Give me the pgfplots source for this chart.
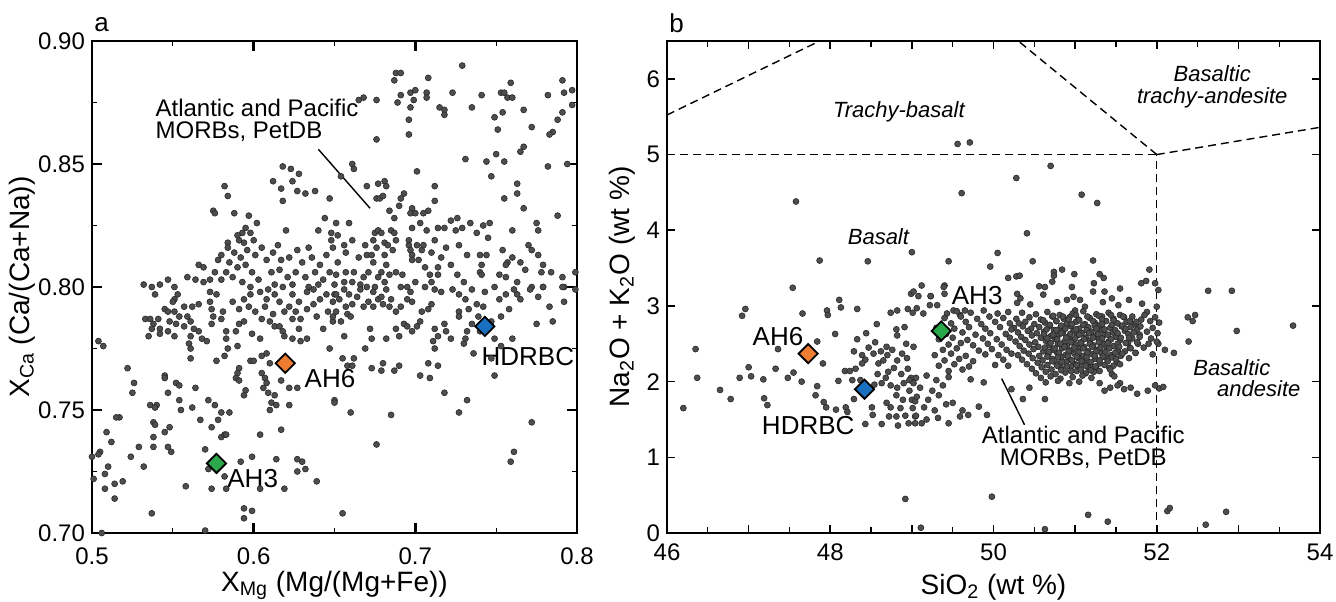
\documentclass[border=0pt]{standalone}
\usepackage{fontspec}
\setmainfont{Liberation Sans}
\usepackage{pgfplots}
\pgfplotsset{compat=1.18}
\definecolor{dotfill}{RGB}{78,78,78}
\definecolor{dotdraw}{RGB}{40,40,40}
\definecolor{cOrange}{RGB}{238,125,49}
\definecolor{cGreen}{RGB}{43,168,74}
\definecolor{cBlue}{RGB}{26,112,192}
\pgfplotsset{
  dots/.style={only marks, mark=*, mark size=1.5pt, mark options={fill=dotfill, draw=dotdraw, line width=0.3pt}},
  dia/.style={only marks, mark=square*, mark size=3.4pt, mark options={rotate=45, fill=#1, draw=black, line width=0.9pt}},
  tasline/.style={black, line width=0.7pt, dash pattern=on 4pt off 2.5pt, forget plot},
}
\begin{document}
\begin{tikzpicture}
\path[use as bounding box] (0,0) rectangle (668pt,300.5pt);
% ---------------- panel a ----------------
\begin{axis}[name=A, anchor=south west, at={(46pt,34pt)}, scale only axis,
 width=242.5pt, height=246pt,
 xmin=0.5, xmax=0.8, ymin=0.70, ymax=0.90,
 xtick={0.5,0.6,0.7,0.8}, xticklabels={0.5,0.6,0.7,0.8},
 ytick={0.70,0.75,0.80,0.85,0.90}, yticklabels={0.70,0.75,0.80,0.85,0.90},
 minor x tick num=1, minor y tick num=1,
 tick align=inside, tick pos=both,
 axis line style={line width=1pt},
 major tick length=5pt, minor tick length=2.5pt,
 major tick style={line width=1.2pt, black}, minor tick style={line width=0.6pt, black},
 tick label style={font=\fontsize{12}{14}\selectfont},
 xticklabel style={yshift=-4pt},
 xlabel={X\textsubscript{Mg} (Mg/(Mg+Fe))},
 ylabel={X\textsubscript{Ca} (Ca/(Ca+Na))},
 every axis x label/.style={at={(axis description cs:0.5,-0.106)}, anchor=center, font=\fontsize{14}{16}\selectfont},
 every axis y label/.style={at={(axis description cs:-0.144,0.5)}, rotate=90, anchor=center, font=\fontsize{14}{16}\selectfont},
]
\addplot[dots] table[row sep=\\] {
x y\\
0.729 0.890\\ 0.688 0.887\\ 0.691 0.887\\ 0.687 0.884\\ 0.708 0.885\\ 0.759 0.883\\ 0.791 0.884\\ 0.691 0.878\\ 0.697 0.879\\ 0.700 0.880\\
0.707 0.879\\ 0.707 0.877\\ 0.676 0.876\\ 0.668 0.877\\ 0.665 0.876\\ 0.723 0.879\\ 0.741 0.878\\ 0.753 0.879\\ 0.755 0.879\\ 0.757 0.877\\
0.760 0.877\\ 0.782 0.878\\ 0.792 0.879\\ 0.797 0.880\\ 0.699 0.876\\ 0.689 0.875\\ 0.697 0.873\\ 0.715 0.873\\ 0.718 0.872\\ 0.718 0.870\\
0.735 0.873\\ 0.754 0.871\\ 0.767 0.872\\ 0.797 0.874\\ 0.791 0.871\\ 0.696 0.868\\ 0.696 0.862\\ 0.676 0.860\\ 0.749 0.869\\ 0.788 0.868\\
0.751 0.864\\ 0.772 0.865\\ 0.785 0.863\\ 0.783 0.862\\ 0.767 0.857\\ 0.765 0.855\\ 0.750 0.854\\ 0.731 0.852\\ 0.744 0.851\\ 0.755 0.851\\
0.661 0.850\\ 0.662 0.848\\ 0.618 0.849\\ 0.623 0.848\\ 0.628 0.846\\ 0.701 0.847\\ 0.782 0.849\\ 0.794 0.850\\ 0.654 0.845\\ 0.747 0.845\\
0.612 0.843\\ 0.624 0.843\\ 0.582 0.841\\ 0.670 0.841\\ 0.677 0.842\\ 0.681 0.843\\ 0.682 0.841\\ 0.712 0.841\\ 0.763 0.842\\ 0.638 0.839\\
0.627 0.839\\ 0.617 0.840\\ 0.632 0.838\\ 0.584 0.837\\ 0.647 0.836\\ 0.676 0.836\\ 0.678 0.836\\ 0.680 0.837\\ 0.693 0.838\\ 0.691 0.836\\
0.763 0.838\\ 0.755 0.836\\ 0.618 0.835\\ 0.712 0.835\\ 0.575 0.831\\ 0.576 0.830\\ 0.690 0.833\\ 0.684 0.831\\ 0.698 0.832\\ 0.708 0.831\\
0.767 0.832\\ 0.588 0.830\\ 0.697 0.830\\ 0.700 0.830\\ 0.705 0.830\\ 0.597 0.829\\ 0.602 0.826\\ 0.644 0.828\\ 0.687 0.828\\ 0.788 0.829\\
0.651 0.826\\ 0.659 0.826\\ 0.703 0.826\\ 0.722 0.827\\ 0.726 0.828\\ 0.734 0.826\\ 0.746 0.826\\ 0.775 0.826\\ 0.742 0.825\\
0.542 0.801\\ 0.547 0.803\\ 0.559 0.804\\ 0.564 0.803\\ 0.569 0.802\\ 0.573 0.803\\ 0.566 0.809\\ 0.569 0.808\\ 0.537 0.800\\ 0.532 0.801\\ 0.551 0.800\\
0.595 0.824\\ 0.593 0.822\\ 0.591 0.819\\ 0.594 0.818\\ 0.600 0.819\\ 0.584 0.818\\ 0.584 0.816\\ 0.590 0.821\\ 0.598 0.822\\ 0.588 0.814\\
0.592 0.812\\ 0.596 0.815\\ 0.601 0.813\\ 0.605 0.816\\ 0.580 0.813\\ 0.578 0.811\\ 0.585 0.810\\ 0.590 0.808\\ 0.595 0.809\\ 0.599 0.806\\
0.583 0.806\\ 0.587 0.804\\ 0.593 0.802\\ 0.580 0.803\\ 0.576 0.806\\ 0.603 0.803\\ 0.598 0.800\\
0.615 0.817\\ 0.634 0.816\\ 0.620 0.823\\ 0.640 0.823\\ 0.648 0.822\\ 0.608 0.811\\ 0.612 0.814\\ 0.617 0.811\\ 0.622 0.812\\ 0.627 0.815\\
0.630 0.810\\ 0.636 0.812\\ 0.641 0.809\\ 0.645 0.813\\ 0.649 0.816\\ 0.611 0.806\\ 0.616 0.807\\ 0.621 0.804\\ 0.626 0.806\\ 0.632 0.804\\
0.638 0.806\\ 0.643 0.803\\ 0.647 0.806\\ 0.613 0.801\\ 0.618 0.800\\ 0.624 0.801\\ 0.634 0.800\\ 0.640 0.801\\ 0.650 0.801\\
0.648 0.819\\ 0.652 0.821\\ 0.656 0.817\\ 0.661 0.819\\ 0.657 0.814\\ 0.665 0.812\\ 0.669 0.817\\ 0.670 0.813\\ 0.674 0.819\\ 0.675 0.822\\
0.677 0.823\\ 0.679 0.822\\ 0.676 0.816\\ 0.673 0.813\\ 0.674 0.810\\ 0.681 0.813\\ 0.681 0.818\\ 0.683 0.817\\ 0.685 0.823\\ 0.687 0.822\\
0.688 0.819\\ 0.686 0.815\\ 0.682 0.809\\ 0.679 0.806\\ 0.677 0.804\\ 0.671 0.806\\ 0.668 0.804\\ 0.662 0.806\\ 0.657 0.806\\ 0.652 0.810\\
0.651 0.805\\ 0.656 0.802\\ 0.661 0.802\\ 0.666 0.801\\ 0.670 0.800\\ 0.675 0.800\\ 0.681 0.802\\ 0.684 0.805\\ 0.688 0.806\\ 0.692 0.805\\
0.696 0.819\\ 0.696 0.817\\ 0.697 0.815\\ 0.698 0.813\\ 0.698 0.811\\ 0.701 0.817\\ 0.702 0.811\\ 0.704 0.815\\ 0.705 0.817\\ 0.706 0.808\\
0.709 0.805\\ 0.710 0.814\\ 0.712 0.819\\ 0.714 0.808\\ 0.714 0.805\\ 0.710 0.802\\ 0.706 0.800\\ 0.700 0.802\\ 0.695 0.800\\ 0.691 0.800\\
0.716 0.812\\ 0.719 0.816\\
0.698 0.824\\ 0.707 0.823\\ 0.714 0.824\\ 0.718 0.824\\ 0.725 0.823\\ 0.729 0.824\\ 0.738 0.822\\ 0.760 0.823\\ 0.776 0.823\\ 0.745 0.820\\
0.770 0.817\\ 0.772 0.815\\ 0.776 0.813\\ 0.740 0.813\\ 0.744 0.813\\ 0.741 0.809\\ 0.740 0.806\\ 0.754 0.815\\ 0.757 0.810\\ 0.760 0.812\\
0.756 0.809\\ 0.765 0.810\\ 0.768 0.807\\ 0.779 0.809\\ 0.778 0.806\\ 0.784 0.806\\ 0.791 0.804\\ 0.799 0.806\\ 0.722 0.809\\ 0.726 0.805\\
0.730 0.802\\ 0.741 0.805\\ 0.752 0.805\\ 0.756 0.804\\ 0.763 0.802\\ 0.772 0.800\\ 0.779 0.800\\ 0.792 0.800\\ 0.732 0.813\\ 0.727 0.817\\
0.533 0.787\\ 0.536 0.787\\ 0.538 0.785\\ 0.537 0.783\\ 0.542 0.783\\ 0.542 0.781\\ 0.535 0.780\\ 0.551 0.780\\ 0.547 0.782\\ 0.545 0.791\\
0.551 0.790\\ 0.554 0.788\\ 0.559 0.788\\ 0.557 0.792\\ 0.562 0.792\\ 0.566 0.793\\ 0.551 0.795\\ 0.553 0.797\\ 0.548 0.786\\ 0.552 0.785\\
0.557 0.784\\ 0.561 0.786\\ 0.563 0.783\\ 0.566 0.782\\ 0.561 0.780\\ 0.568 0.779\\ 0.571 0.778\\ 0.574 0.785\\ 0.575 0.788\\ 0.574 0.791\\
0.573 0.794\\ 0.573 0.798\\ 0.577 0.797\\ 0.560 0.777\\ 0.561 0.775\\ 0.561 0.771\\ 0.577 0.770\\ 0.582 0.772\\ 0.584 0.775\\ 0.590 0.776\\
0.583 0.779\\ 0.583 0.782\\ 0.589 0.782\\ 0.591 0.785\\ 0.594 0.786\\ 0.587 0.794\\ 0.581 0.790\\ 0.580 0.787\\ 0.599 0.781\\ 0.604 0.779\\
0.605 0.787\\ 0.610 0.786\\ 0.613 0.784\\ 0.616 0.784\\ 0.618 0.782\\ 0.619 0.780\\ 0.624 0.779\\ 0.628 0.783\\ 0.629 0.778\\ 0.633 0.779\\
0.624 0.787\\ 0.622 0.792\\ 0.612 0.789\\ 0.608 0.795\\ 0.613 0.797\\ 0.616 0.794\\ 0.624 0.797\\ 0.628 0.794\\ 0.633 0.791\\ 0.637 0.793\\
0.641 0.795\\ 0.645 0.797\\ 0.649 0.794\\ 0.646 0.790\\ 0.639 0.788\\ 0.643 0.783\\ 0.647 0.775\\ 0.649 0.786\\ 0.633 0.798\\ 0.637 0.799\\
0.609 0.799\\ 0.604 0.798\\ 0.598 0.797\\ 0.594 0.795\\ 0.591 0.791\\ 0.626 0.790\\ 0.629 0.787\\ 0.619 0.790\\ 0.607 0.792\\ 0.601 0.790\\
0.597 0.792\\ 0.541 0.787\\ 0.539 0.797\\ 0.547 0.790\\ 0.550 0.794\\ 0.504 0.778\\ 0.507 0.776\\
0.650 0.797\\ 0.653 0.795\\ 0.656 0.799\\ 0.659 0.797\\ 0.657 0.792\\ 0.661 0.793\\ 0.664 0.796\\ 0.666 0.799\\ 0.668 0.792\\ 0.671 0.794\\
0.674 0.792\\ 0.677 0.795\\ 0.680 0.793\\ 0.679 0.796\\ 0.674 0.798\\ 0.682 0.799\\ 0.685 0.795\\ 0.684 0.792\\ 0.688 0.790\\ 0.691 0.792\\
0.695 0.795\\ 0.697 0.798\\ 0.698 0.794\\ 0.693 0.785\\ 0.695 0.784\\ 0.688 0.783\\ 0.690 0.780\\ 0.698 0.782\\ 0.701 0.784\\ 0.703 0.786\\
0.704 0.790\\ 0.708 0.791\\ 0.710 0.793\\ 0.712 0.783\\ 0.714 0.780\\ 0.711 0.778\\ 0.712 0.775\\ 0.718 0.785\\ 0.719 0.782\\ 0.722 0.779\\
0.727 0.790\\ 0.727 0.788\\ 0.731 0.795\\ 0.732 0.782\\ 0.731 0.779\\ 0.730 0.777\\ 0.733 0.791\\ 0.738 0.793\\ 0.742 0.792\\ 0.735 0.785\\
0.740 0.782\\ 0.651 0.790\\ 0.649 0.788\\ 0.654 0.786\\ 0.658 0.789\\ 0.660 0.788\\ 0.672 0.783\\ 0.673 0.779\\ 0.669 0.775\\ 0.682 0.779\\
0.656 0.780\\ 0.651 0.797\\ 0.712 0.799\\ 0.716 0.798\\ 0.723 0.799\\ 0.727 0.797\\ 0.735 0.799\\ 0.743 0.798\\ 0.749 0.800\\ 0.756 0.797\\
0.761 0.799\\ 0.765 0.795\\ 0.763 0.797\\ 0.771 0.799\\ 0.776 0.796\\ 0.779 0.800\\ 0.783 0.792\\ 0.792 0.794\\ 0.791 0.800\\ 0.775 0.785\\
0.785 0.786\\ 0.799 0.799\\ 0.739 0.788\\ 0.747 0.786\\ 0.753 0.788\\ 0.758 0.791\\ 0.752 0.795\\
0.655 0.708\\ 0.676 0.736\\ 0.660 0.749\\ 0.685 0.748\\ 0.650 0.754\\ 0.650 0.753\\ 0.718 0.757\\ 0.732 0.754\\ 0.727 0.749\\ 0.772 0.745\\
0.761 0.733\\ 0.759 0.729\\ 0.749 0.764\\ 0.703 0.764\\ 0.709 0.763\\ 0.708 0.769\\ 0.714 0.768\\ 0.680 0.769\\ 0.679 0.766\\ 0.673 0.767\\
0.687 0.766\\ 0.690 0.768\\ 0.655 0.771\\ 0.658 0.768\\ 0.662 0.771\\ 0.661 0.768\\ 0.736 0.773\\ 0.747 0.771\\ 0.753 0.776\\ 0.760 0.779\\
0.749 0.779\\
0.605 0.772\\ 0.608 0.773\\ 0.610 0.769\\ 0.598 0.770\\ 0.600 0.770\\ 0.591 0.767\\ 0.590 0.765\\ 0.589 0.763\\ 0.591 0.762\\ 0.605 0.765\\
0.607 0.763\\ 0.608 0.761\\ 0.606 0.759\\ 0.609 0.757\\ 0.613 0.756\\ 0.611 0.753\\ 0.614 0.752\\ 0.610 0.750\\ 0.622 0.752\\ 0.617 0.762\\
0.622 0.759\\ 0.627 0.759\\ 0.594 0.756\\ 0.595 0.758\\ 0.522 0.767\\ 0.526 0.761\\ 0.525 0.757\\ 0.545 0.764\\ 0.545 0.763\\ 0.552 0.761\\
0.554 0.760\\ 0.547 0.757\\ 0.554 0.754\\ 0.555 0.750\\ 0.564 0.759\\ 0.562 0.751\\ 0.572 0.754\\ 0.576 0.752\\ 0.536 0.752\\ 0.540 0.752\\
0.539 0.751\\ 0.517 0.747\\ 0.509 0.741\\ 0.512 0.737\\ 0.505 0.733\\ 0.504 0.732\\ 0.500 0.731\\ 0.524 0.731\\ 0.529 0.735\\ 0.538 0.735\\
0.538 0.739\\ 0.538 0.745\\ 0.539 0.744\\ 0.545 0.741\\ 0.548 0.743\\ 0.547 0.735\\ 0.549 0.733\\ 0.532 0.727\\ 0.510 0.727\\ 0.508 0.724\\
0.501 0.722\\ 0.508 0.718\\ 0.514 0.720\\ 0.519 0.721\\ 0.514 0.714\\ 0.537 0.708\\ 0.558 0.719\\ 0.567 0.746\\ 0.574 0.743\\ 0.578 0.746\\
0.580 0.749\\ 0.585 0.749\\ 0.580 0.739\\ 0.582 0.740\\ 0.583 0.740\\ 0.570 0.734\\ 0.572 0.726\\ 0.574 0.718\\ 0.583 0.718\\ 0.582 0.723\\
0.592 0.729\\ 0.599 0.731\\ 0.604 0.740\\ 0.604 0.718\\ 0.594 0.710\\ 0.599 0.709\\ 0.594 0.706\\ 0.614 0.730\\ 0.617 0.742\\ 0.619 0.718\\
0.627 0.730\\ 0.630 0.729\\ 0.627 0.725\\ 0.632 0.726\\ 0.639 0.721\\ 0.506 0.700\\ 0.570 0.701\\ 0.515 0.747\\
};
\addplot[dia=cOrange] coordinates {(0.6195,0.769)};
\addplot[dia=cGreen] coordinates {(0.577,0.7283)};
\addplot[dia=cBlue] coordinates {(0.743,0.784)};
\node[font=\fontsize{13}{15}\selectfont] at (axis cs:0.6472,0.7627) {AH6};
\node[font=\fontsize{13}{15}\selectfont] at (axis cs:0.5994,0.7220) {AH3};
\node[font=\fontsize{13}{15}\selectfont] at (axis cs:0.7696,0.7717) {HDRBC};
\node[anchor=north west, inner sep=0pt, align=left, font=\fontsize{12}{11}\selectfont] at (axis cs:0.5391,0.8764) {Atlantic and Pacific\\MORBs, PetDB};
\draw[black, line width=0.7pt] (axis cs:0.640,0.856) -- (axis cs:0.672,0.832);
\end{axis}
\node[anchor=base west, inner sep=0pt, font=\fontsize{13}{15}\selectfont] at ([xshift=1pt,yshift=4.5pt]A.north west) {a};
% ---------------- panel b ----------------
\begin{axis}[name=B, anchor=south west, at={(333.5pt,34pt)}, scale only axis,
 width=326.5pt, height=246pt,
 xmin=46, xmax=54, ymin=0, ymax=6.5,
 xtick={46,47,...,54}, xticklabels={46,,48,,50,,52,,54},
 ytick={0,1,...,6}, yticklabels={0,1,2,3,4,5,6},
 minor x tick num=1,
 tick align=inside, tick pos=both,
 axis line style={line width=1pt},
 major tick length=4pt, minor tick length=3pt,
 major tick style={line width=0.8pt, black}, minor tick style={line width=0.6pt, black},
 tick label style={font=\fontsize{12}{14}\selectfont},
 xticklabel style={yshift=-2pt},
 xlabel={SiO\textsubscript{2} (wt \%)},
 ylabel={Na\textsubscript{2}O + K\textsubscript{2}O (wt \%)},
 every axis x label/.style={at={(axis description cs:0.5,-0.11)}, anchor=center, font=\fontsize{14}{16}\selectfont},
 every axis y label/.style={at={(axis description cs:-0.069,0.5)}, rotate=90, anchor=center, font=\fontsize{14}{16}\selectfont},
]
\addplot[tasline] coordinates {(46,5.523) (47.87,6.5)};
\addplot[tasline] coordinates {(46,5) (52,5)};
\addplot[tasline] coordinates {(52,0) (52,5)};
\addplot[tasline] coordinates {(52,5) (50.304,6.5)};
\addplot[tasline] coordinates {(52,5) (54,5.36)};
\addplot[dots] table[row sep=\\] {
x y\\
49.56 5.14\\ 49.71 5.16\\ 50.70 4.85\\ 50.28 4.69\\ 49.61 4.49\\ 51.08 4.47\\ 51.27 4.36\\ 47.58 4.38\\ 50.41 3.96\\ 50.05 3.70\\
49.45 3.59\\ 49.96 3.52\\ 50.48 3.59\\ 51.22 3.60\\ 49.00 3.71\\ 47.87 3.60\\ 48.46 3.59\\ 47.54 3.24\\ 49.98 0.48\\ 49.11 0.07\\
50.63 0.05\\ 51.16 0.24\\ 51.40 0.15\\ 52.13 0.29\\ 52.16 0.33\\ 52.85 0.28\\ 52.60 0.11\\ 48.92 0.45\\ 52.63 3.20\\ 52.92 3.20\\
52.38 2.85\\ 52.44 2.80\\ 52.47 2.88\\ 52.98 2.67\\ 53.67 2.74\\ 52.39 2.53\\ 52.21 2.38\\ 52.02 2.50\\ 52.10 2.42\\ 52.03 1.91\\ 52.08 1.93\\
48.11 3.08\\ 48.13 2.98\\ 46.96 2.96\\ 46.92 2.87\\ 47.66 2.90\\ 47.96 2.94\\ 47.97 2.88\\ 48.33 2.96\\ 48.74 2.91\\ 48.82 2.94\\
48.95 2.96\\ 49.01 2.91\\ 48.57 2.76\\ 48.06 2.63\\ 48.44 2.64\\ 48.33 2.56\\ 48.81 2.69\\ 48.91 2.72\\ 48.82 2.61\\ 47.84 2.53\\
46.35 2.43\\ 47.36 2.43\\ 48.29 2.40\\ 48.39 2.35\\ 48.43 2.29\\ 48.53 2.37\\ 48.39 2.24\\ 48.69 2.46\\ 48.93 2.50\\ 49.02 2.46\\
47.91 2.24\\ 48.59 2.24\\ 48.65 2.28\\ 48.71 2.13\\ 48.82 2.28\\ 48.88 2.37\\ 48.94 2.31\\ 47.00 2.19\\ 46.89 2.05\\ 47.03 2.07\\
47.33 2.17\\ 47.48 2.05\\ 47.55 2.12\\ 47.65 2.00\\ 47.18 2.03\\ 46.37 2.05\\ 46.65 1.89\\ 46.78 1.77\\ 46.20 1.65\\ 47.19 1.78\\
47.23 1.69\\ 47.84 1.94\\ 47.82 1.82\\ 47.92 1.73\\ 47.95 1.66\\ 48.07 1.63\\ 48.10 2.01\\ 48.18 2.14\\ 48.24 2.14\\ 48.31 2.17\\
48.27 2.02\\ 48.37 2.02\\ 48.19 1.66\\ 48.21 1.60\\ 48.29 1.77\\ 48.43 1.44\\ 48.51 1.66\\ 48.52 1.56\\ 48.63 1.44\\ 48.54 1.96\\
48.63 1.98\\ 48.74 1.66\\ 48.72 1.54\\ 48.81 1.54\\ 48.82 1.92\\ 48.81 1.82\\ 48.89 1.76\\ 48.92 1.55\\ 49.00 1.76\\ 49.01 1.65\\
48.47 2.45\\ 48.55 2.52\\ 48.62 2.40\\ 48.70 2.35\\ 48.76 2.42\\ 48.78 2.18\\ 48.87 2.10\\ 48.95 2.17\\ 48.99 2.05\\ 48.68 2.05\\
48.58 2.10\\ 48.90 1.98\\ 48.97 1.88\\ 48.74 1.95\\ 48.86 1.65\\ 48.96 1.45\\ 48.83 1.42\\ 48.69 1.72\\ 48.97 2.02\\ 49.02 1.98\\
49.04 1.74\\ 49.04 1.54\\ 49.04 1.45\\ 48.99 3.16\\ 49.08 3.13\\ 49.23 3.13\\ 49.40 3.27\\ 49.40 3.16\\
50.18 3.37\\ 50.28 3.39\\ 50.32 3.40\\ 50.74 3.45\\ 50.84 3.48\\ 50.74 3.40\\ 50.99 3.42\\ 51.30 3.42\\ 51.35 3.37\\ 51.91 3.48\\
51.81 3.30\\ 51.87 3.33\\ 49.39 3.25\\ 49.12 3.27\\ 49.02 3.19\\ 50.56 3.26\\ 50.63 3.25\\ 50.61 3.15\\ 50.72 3.32\\ 50.96 3.25\\
51.23 3.30\\ 51.22 3.19\\ 51.55 3.23\\ 51.36 3.19\\ 51.34 3.05\\ 49.23 3.13\\ 49.22 3.01\\ 50.29 3.16\\ 50.33 3.10\\ 50.29 3.04\\
50.90 3.08\\ 50.98 3.12\\ 51.06 3.08\\ 51.12 2.99\\ 51.00 2.94\\ 51.53 3.01\\ 51.66 3.08\\ 51.82 3.03\\ 51.88 2.92\\ 52.00 2.99\\
51.98 3.30\\ 52.02 3.21\\ 49.06 2.97\\ 49.14 2.90\\ 49.31 3.01\\ 49.43 2.90\\ 49.51 2.94\\ 49.59 2.88\\ 49.65 2.94\\ 50.45 3.02\\ 50.78 3.05\\ 51.45 3.10\\
50.35 2.91\\ 50.52 2.89\\ 50.66 2.92\\ 50.81 2.88\\ 50.97 2.90\\ 51.10 2.93\\ 51.26 2.89\\ 51.41 2.91\\ 51.55 2.88\\
50.28 2.83\\ 50.44 2.85\\ 50.58 2.82\\ 50.72 2.86\\ 50.86 2.83\\ 50.93 2.85\\ 51.04 2.82\\ 51.18 2.84\\ 51.33 2.86\\ 51.47 2.83\\ 51.60 2.85\\
50.31 2.77\\ 50.39 2.79\\ 50.50 2.76\\ 50.63 2.78\\ 50.77 2.80\\ 50.90 2.77\\ 51.01 2.79\\ 51.12 2.76\\ 51.24 2.78\\ 51.38 2.80\\ 51.52 2.77\\ 51.63 2.79\\
50.25 2.71\\ 50.36 2.73\\ 50.46 2.70\\ 50.56 2.72\\ 50.69 2.74\\ 50.82 2.71\\ 50.95 2.73\\ 51.05 2.70\\ 51.16 2.72\\ 51.29 2.74\\ 51.43 2.71\\ 51.57 2.73\\
50.30 2.65\\ 50.42 2.67\\ 50.53 2.64\\ 50.62 2.66\\ 50.74 2.68\\ 50.85 2.65\\ 50.98 2.67\\ 51.08 2.64\\ 51.20 2.66\\ 51.33 2.68\\ 51.46 2.65\\ 51.61 2.67\\
50.34 2.59\\ 50.47 2.61\\ 50.58 2.58\\ 50.70 2.60\\ 50.80 2.62\\ 50.91 2.59\\ 51.02 2.61\\ 51.13 2.58\\ 51.25 2.60\\ 51.36 2.62\\ 51.50 2.59\\
50.27 2.53\\ 50.39 2.55\\ 50.51 2.52\\ 50.64 2.54\\ 50.76 2.56\\ 50.87 2.53\\ 50.97 2.55\\ 51.07 2.52\\ 51.18 2.54\\ 51.29 2.56\\ 51.41 2.53\\ 51.55 2.55\\
50.32 2.47\\ 50.44 2.49\\ 50.55 2.46\\ 50.68 2.48\\ 50.79 2.50\\ 50.90 2.47\\ 51.01 2.49\\ 51.11 2.46\\ 51.22 2.48\\ 51.34 2.50\\ 51.47 2.47\\
50.37 2.41\\ 50.49 2.43\\ 50.61 2.40\\ 50.73 2.42\\ 50.84 2.44\\ 50.95 2.41\\ 51.05 2.43\\ 51.16 2.40\\ 51.27 2.42\\ 51.39 2.44\\ 51.52 2.41\\
50.30 2.35\\ 50.43 2.37\\ 50.56 2.34\\ 50.67 2.36\\ 50.78 2.38\\ 50.88 2.35\\ 50.99 2.37\\ 51.10 2.34\\ 51.21 2.36\\ 51.32 2.38\\ 51.44 2.35\\
50.35 2.29\\ 50.48 2.31\\ 50.60 2.28\\ 50.72 2.30\\ 50.83 2.32\\ 50.94 2.29\\ 51.04 2.31\\ 51.14 2.28\\ 51.25 2.30\\ 51.37 2.32\\
50.41 2.23\\ 50.54 2.25\\ 50.66 2.22\\ 50.77 2.24\\ 50.89 2.26\\ 51.00 2.23\\ 51.09 2.25\\ 51.19 2.22\\ 51.30 2.24\\
50.47 2.17\\ 50.59 2.19\\ 50.71 2.16\\ 50.83 2.18\\ 50.95 2.20\\ 51.06 2.17\\ 51.16 2.19\\ 51.26 2.16\\ 51.42 2.18\\
50.52 2.11\\ 50.64 2.13\\ 50.76 2.10\\ 50.88 2.12\\ 51.02 2.14\\ 51.13 2.11\\ 51.23 2.13\\ 51.45 2.10\\
50.58 2.05\\ 50.70 2.07\\ 50.82 2.04\\ 50.97 2.06\\ 51.09 2.08\\ 51.20 2.05\\ 51.48 2.07\\
50.64 1.99\\ 50.79 2.01\\ 50.93 1.98\\ 51.05 2.00\\ 51.55 1.98\\
50.73 2.87\\ 50.85 2.86\\ 51.01 2.88\\ 51.15 2.86\\ 51.29 2.87\\ 51.44 2.88\\ 51.59 2.86\\
50.61 2.81\\ 50.77 2.80\\ 50.92 2.82\\ 51.05 2.81\\ 51.22 2.80\\ 51.33 2.82\\ 51.47 2.81\\ 51.67 2.80\\ 51.81 2.82\\
50.69 2.75\\ 50.83 2.74\\ 50.96 2.76\\ 51.10 2.75\\ 51.24 2.74\\ 51.33 2.76\\ 51.45 2.75\\ 51.58 2.74\\ 51.73 2.76\\
50.65 2.69\\ 50.77 2.68\\ 50.88 2.70\\ 51.01 2.69\\ 51.14 2.68\\ 51.26 2.70\\ 51.36 2.69\\ 51.49 2.68\\ 51.62 2.70\\ 51.76 2.69\\
50.62 2.63\\ 50.73 2.62\\ 50.83 2.64\\ 50.94 2.63\\ 51.05 2.62\\ 51.17 2.64\\ 51.28 2.63\\ 51.40 2.62\\ 51.52 2.64\\ 51.65 2.63\\ 51.79 2.62\\
50.66 2.57\\ 50.78 2.56\\ 50.89 2.58\\ 51.00 2.57\\ 51.11 2.56\\ 51.22 2.58\\ 51.33 2.57\\ 51.44 2.56\\ 51.56 2.58\\ 51.70 2.57\\
50.70 2.51\\ 50.82 2.50\\ 50.95 2.52\\ 51.07 2.51\\ 51.18 2.50\\ 51.29 2.52\\ 51.40 2.51\\ 51.52 2.50\\ 51.65 2.52\\ 51.77 2.50\\
50.63 2.45\\ 50.75 2.44\\ 50.87 2.46\\ 50.99 2.45\\ 51.10 2.44\\ 51.21 2.46\\ 51.31 2.45\\ 51.42 2.44\\ 51.54 2.46\\ 51.67 2.45\\
50.68 2.39\\ 50.80 2.38\\ 50.92 2.40\\ 51.04 2.39\\ 51.15 2.38\\ 51.26 2.40\\ 51.37 2.39\\ 51.49 2.38\\ 51.61 2.40\\ 51.74 2.38\\
50.66 2.33\\ 50.79 2.32\\ 50.91 2.34\\ 51.02 2.33\\ 51.14 2.32\\ 51.24 2.34\\ 51.34 2.33\\ 51.45 2.32\\ 51.56 2.34\\
50.72 2.27\\ 50.84 2.26\\ 50.96 2.28\\ 51.08 2.27\\ 51.19 2.26\\ 51.30 2.28\\ 51.40 2.27\\ 51.51 2.26\\
50.78 2.21\\ 50.90 2.20\\ 51.02 2.22\\ 51.13 2.21\\ 51.25 2.20\\ 51.36 2.22\\ 51.47 2.21\\
50.83 2.15\\ 50.95 2.14\\ 51.07 2.16\\ 51.19 2.15\\ 51.30 2.14\\ 51.43 2.16\\
49.55 2.93\\ 49.72 2.91\\ 49.88 2.94\\ 50.05 2.90\\ 50.18 2.92\\ 49.40 2.84\\ 49.60 2.86\\ 49.80 2.83\\ 49.95 2.86\\ 50.12 2.84\\
49.48 2.77\\ 49.66 2.79\\ 49.85 2.76\\ 50.02 2.79\\ 50.20 2.77\\ 49.30 2.71\\ 49.52 2.70\\ 49.70 2.72\\ 49.90 2.70\\ 50.08 2.72\\ 50.22 2.69\\
49.42 2.63\\ 49.62 2.65\\ 49.78 2.62\\ 49.96 2.64\\ 50.15 2.63\\ 49.33 2.56\\ 49.50 2.58\\ 49.68 2.55\\ 49.87 2.57\\ 50.04 2.56\\ 50.20 2.58\\
49.45 2.49\\ 49.60 2.51\\ 49.75 2.48\\ 49.93 2.50\\ 50.10 2.49\\ 49.38 2.42\\ 49.55 2.44\\ 49.82 2.41\\ 49.98 2.43\\ 50.16 2.42\\
49.28 2.35\\ 49.48 2.37\\ 49.66 2.34\\ 49.90 2.36\\ 50.06 2.35\\ 50.22 2.37\\ 49.40 2.28\\ 49.58 2.30\\ 49.75 2.27\\ 50.12 2.29\\
49.33 2.21\\ 49.52 2.23\\ 49.70 2.20\\ 50.02 2.22\\ 50.18 2.21\\ 49.45 2.14\\ 49.62 2.16\\
49.05 2.05\\ 49.18 2.08\\ 49.30 2.02\\ 49.45 2.06\\ 49.72 2.03\\ 49.88 1.99\\ 49.10 1.92\\ 49.25 1.88\\ 49.38 1.95\\ 49.06 1.80\\
49.20 1.76\\ 49.33 1.82\\ 49.15 1.66\\ 49.28 1.62\\ 49.42 1.70\\ 49.05 1.55\\ 49.18 1.50\\ 49.32 1.52\\ 49.59 1.54\\ 49.69 1.56\\
49.82 1.67\\ 49.92 1.56\\ 49.50 1.72\\ 49.12 1.45\\ 49.45 1.45\\ 49.62 1.62\\
51.70 2.86\\ 51.85 2.88\\ 51.98 2.85\\ 51.75 2.79\\ 51.92 2.80\\ 52.03 2.78\\ 51.68 2.72\\ 51.80 2.73\\ 51.95 2.71\\ 51.72 2.65\\
51.88 2.66\\ 52.01 2.64\\ 51.66 2.58\\ 51.79 2.59\\ 51.93 2.57\\ 51.62 2.51\\ 51.76 2.52\\ 51.90 2.50\\ 52.00 2.53\\ 51.68 2.44\\
51.84 2.45\\ 51.58 2.37\\ 51.74 2.38\\ 51.95 2.36\\ 51.50 2.30\\ 51.66 2.31\\ 51.55 2.23\\
51.43 1.92\\ 51.52 1.95\\ 51.60 1.90\\ 51.68 1.92\\ 51.76 1.84\\ 51.89 1.88\\ 51.98 1.95\\ 51.30 1.98\\ 51.36 1.88\\
50.36 1.77\\ 50.63 1.77\\ 50.22 1.90\\ 50.44 1.92\\
};
\addplot[dia=cOrange] coordinates {(47.73,2.37)};
\addplot[dia=cBlue] coordinates {(48.42,1.90)};
\addplot[dia=cGreen] coordinates {(49.36,2.67)};
\node[font=\fontsize{13}{15}\selectfont] at (axis cs:47.36,2.60) {AH6};
\node[font=\fontsize{13}{15}\selectfont] at (axis cs:47.73,1.42) {HDRBC};
\node[font=\fontsize{13}{15}\selectfont] at (axis cs:49.80,3.14) {AH3};
\node[align=center, font=\fontsize{12}{11}\selectfont] at (axis cs:51.1,1.13) {Atlantic and Pacific\\MORBs, PetDB};
\draw[black, line width=0.7pt] (axis cs:50.10,2.04) -- (axis cs:50.38,1.43);
\node[font=\fontsize{11}{13}\itshape] at (axis cs:48.84,5.57) {Trachy-basalt};
\node[align=center, font=\fontsize{11}{11}\itshape] at (axis cs:52.68,5.895) {Basaltic\\trachy-andesite};
\node[font=\fontsize{11}{13}\itshape] at (axis cs:48.59,3.91) {Basalt};
\node[font=\fontsize{11}{13}\itshape] at (axis cs:52.92,2.19) {Basaltic};
\node[font=\fontsize{11}{13}\itshape] at (axis cs:53.25,1.91) {andesite};
\end{axis}
\node[anchor=base west, inner sep=0pt, font=\fontsize{13}{15}\selectfont] at ([xshift=1pt,yshift=4.5pt]B.north west) {b};
\end{tikzpicture}
\end{document}
